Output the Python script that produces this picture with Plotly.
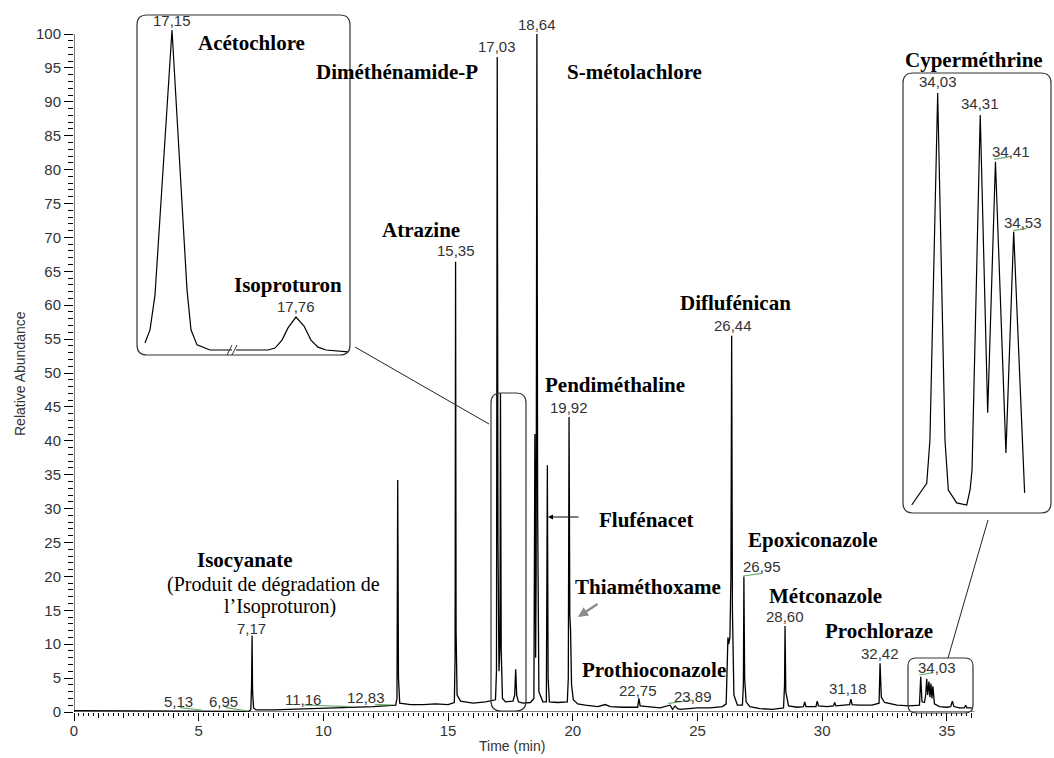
import plotly.graph_objects as go

# ---------------- data ----------------
time_min = [0.00, 1.00, 2.00, 3.00, 4.00, 5.00, 6.00, 7.00, 7.09, 7.12, 7.14, 7.16, 7.20, 7.30,
            8.00, 9.00, 10.00, 11.00, 12.00, 12.90, 12.95, 12.98, 13.01, 13.06, 13.50, 14.00,
            14.50, 15.00, 15.25, 15.28, 15.30, 15.32, 15.36, 15.50, 16.00, 16.50, 16.90, 16.94,
            16.97, 17.00, 17.04, 17.08, 17.10, 17.13, 17.18, 17.30, 17.60, 17.67, 17.71, 17.75,
            17.82, 18.00, 18.30, 18.44, 18.48, 18.51, 18.53, 18.56, 18.59, 18.64, 18.80, 18.94,
            18.98, 19.01, 19.06, 19.40, 19.78, 19.82, 19.85, 19.88, 19.91, 19.95, 20.02, 20.20,
            20.50, 21.00, 21.30, 21.50, 22.00, 22.60, 22.65, 22.70, 23.00, 23.50, 23.90, 24.00,
            24.10, 24.20, 24.30, 25.00, 25.50, 26.00, 26.15, 26.20, 26.22, 26.25, 26.30, 26.34,
            26.37, 26.40, 26.46, 26.60, 26.80, 26.84, 26.86, 26.89, 26.95, 27.10, 27.50, 28.00,
            28.45, 28.49, 28.51, 28.54, 28.65, 29.00, 29.25, 29.30, 29.35, 29.75, 29.80, 29.85,
            30.20, 30.45, 30.50, 30.55, 31.00, 31.10, 31.15, 31.20, 31.50, 32.00, 32.28, 32.32,
            32.37, 32.50, 33.00, 33.50, 33.90, 33.95, 34.00, 34.10, 34.15, 34.19, 34.23, 34.28,
            34.32, 34.36, 34.40, 34.44, 34.50, 34.70, 35.00, 35.15, 35.22, 35.28, 35.50, 35.70,
            35.75, 35.80, 36.00]
abundance = [0.2, 0.2, 0.2, 0.2, 0.1, 0.1, 0.2, 0.1, 0.3, 4.0, 11.3, 3.0, 0.6, 0.3,
             0.3, 0.4, 0.5, 0.7, 0.8, 1.0, 2.0, 34.2, 5.0, 1.3, 1.1, 1.1,
             1.2, 1.1, 1.4, 8.0, 66.4, 12.0, 2.5, 1.6, 1.3, 1.5, 1.8, 6.0,
             96.6, 25.0, 6.0, 10.0, 47.0, 9.0, 2.0, 1.5, 1.6, 2.5, 6.3, 2.5,
             1.5, 1.3, 1.4, 2.0, 41.0, 8.0, 20.0, 100.0, 30.0, 3.0, 1.5, 1.5,
             36.4, 5.0, 1.5, 1.4, 1.5, 5.0, 43.5, 14.3, 12.0, 4.0, 1.8, 1.2,
             1.0, 0.8, 1.1, 0.8, 0.7, 0.7, 2.0, 0.9, 0.8, 0.6, 1.0, 0.4,
             0.9, 0.5, 0.4, 0.6, 0.6, 0.8, 1.2, 8.0, 11.0, 10.0, 11.0, 20.0,
             55.5, 15.0, 2.5, 1.0, 1.0, 4.0, 20.0, 5.0, 1.5, 0.8, 0.5, 0.4,
             0.6, 4.0, 12.7, 3.0, 0.9, 0.7, 0.8, 1.5, 0.8, 0.8, 1.6, 0.9,
             0.8, 0.9, 1.4, 0.9, 1.0, 1.1, 1.9, 1.1, 1.0, 1.0, 1.3, 7.2,
             2.2, 1.4, 1.0, 0.9, 1.0, 5.2, 1.5, 1.4, 2.5, 4.9, 2.5, 4.5,
             2.2, 4.2, 2.0, 3.8, 1.2, 0.8, 0.7, 0.8, 1.6, 0.8, 0.6, 0.6,
             1.0, 0.6, 0.6]

# Inset 1 : Acétochlore (left of the break) and Isoproturon (right of the break)
acet_time = [17.096, 17.106, 17.116, 17.150, 17.180, 17.188, 17.200, 17.226, 17.270]
acet_abund = [2.2, 6.3, 17.2, 100.0, 18.8, 6.3, 1.6, 0.0, 0.0]
isop_time = [17.640, 17.704, 17.718, 17.732, 17.744, 17.760, 17.776, 17.790, 17.804, 17.820, 17.864]
isop_abund = [0.0, 0.0, 0.6, 3.1, 6.9, 10.3, 7.5, 3.1, 0.9, 0.0, -0.6]

# Inset 2 : Cyperméthrine isomers
cyp_time = [33.859, 33.958, 33.979, 34.030, 34.078, 34.100, 34.155, 34.221, 34.243, 34.256,
            34.310, 34.359, 34.410, 34.479, 34.530, 34.602]
cyp_abund = [1.2, 6.4, 16.8, 100.0, 16.8, 4.8, 1.7, 1.2, 4.8, 9.6,
             94.7, 23.3, 83.5, 13.7, 66.7, 4.1]

y_tick_vals = list(range(0, 101, 5))
x_tick_vals = list(range(0, 37))
x_tick_text = [str(v) if v % 5 == 0 else "" for v in x_tick_vals]

# peak labels (text, pixel x, pixel y)
rt_labels = [("5,13", 178.5, 701), ("6,95", 223, 701), ("7,17", 251.7, 628.5), ("11,16", 302.5, 699.3),
             ("12,83", 366, 697.3), ("15,35", 455.7, 250), ("17,03", 497.3, 46.7), ("18,64", 537.3, 24),
             ("19,92", 569, 407.3), ("22,75", 638.3, 690), ("23,89", 693.3, 696), ("26,44", 733, 325),
             ("26,95", 761.7, 566.7), ("28,60", 785, 616), ("31,18", 848.3, 688.3), ("32,42", 880, 653),
             ("34,03", 936.7, 667.7),
             ("17,15", 171.7, 20.7), ("17,76", 296, 306),
             ("34,03", 937.7, 81.7), ("34,31", 980, 103.3), ("34,41", 1010.7, 151.7), ("34,53", 1023, 222.7)]

compound_names = [("Acétochlore", 251.7, 42.7), ("Diméthénamide-P", 397, 72), ("S-métolachlore", 634, 72),
                  ("Atrazine", 421, 230), ("Isoproturon", 288, 285), ("Pendiméthaline", 615, 385),
                  ("Flufénacet", 646, 520), ("Thiaméthoxame", 648, 587), ("Prothioconazole", 654, 670),
                  ("Diflufénican", 735, 303), ("Epoxiconazole", 813, 540), ("Métconazole", 825, 596),
                  ("Prochloraze", 879, 631), ("Cyperméthrine", 974, 60), ("Isocyanate", 244.7, 560)]
plain_texts = [("(Produit de dégradation de", 273, 584), ("l’Isoproturon)", 280, 606)]

# green integration marks (pixel coordinates)
green_marks = [(180, 707.7, 201.7, 710), (225.7, 707.7, 248.3, 711), (303.3, 705, 350, 706.7),
               (375, 704.3, 391.7, 705), (668.3, 703.3, 693.3, 700), (919.3, 675, 933.3, 672.7),
               (743.3, 576, 761.7, 573.3), (994, 159.3, 1010, 156.7), (1013.3, 230.7, 1026.7, 228.3)]

# ---------------- layout geometry ----------------
W, H = 1054, 758
L, R, T, B = 74, 4, 10, 46
PW, PH = W - L - R, H - T - B
XPX_PER_MIN = 24.94
YPX_PER_UNIT = 6.78
X_MAX = PW / XPX_PER_MIN
Y_MAX = PH / YPX_PER_UNIT


def fx(px):
    return (px - L) / PW


def fy(py):
    return (T + PH - py) / PH


def rounded_box(x0, y0, x1, y1, r):
    # pixel coords (y0 top, y1 bottom) -> paper path
    a, b = fx(x0), fx(x1)
    top, bot = fy(y0), fy(y1)
    rx, ry = r / PW, r / PH
    return (f"M {a+rx},{top} L {b-rx},{top} Q {b},{top} {b},{top-ry} "
            f"L {b},{bot+ry} Q {b},{bot} {b-rx},{bot} L {a+rx},{bot} "
            f"Q {a},{bot} {a},{bot+ry} L {a},{top-ry} Q {a},{top} {a+rx},{top} Z")


fig = go.Figure()
fig.add_trace(go.Scatter(x=time_min, y=abundance, mode="lines", line=dict(color="black", width=1.3),
                         xaxis="x", yaxis="y", showlegend=False, hoverinfo="skip"))
fig.add_trace(go.Scatter(x=acet_time, y=acet_abund, mode="lines", line=dict(color="black", width=1.2),
                         xaxis="x2", yaxis="y2", showlegend=False, hoverinfo="skip"))
fig.add_trace(go.Scatter(x=isop_time, y=isop_abund, mode="lines", line=dict(color="black", width=1.2),
                         xaxis="x3", yaxis="y2", showlegend=False, hoverinfo="skip"))
fig.add_trace(go.Scatter(x=cyp_time, y=cyp_abund, mode="lines", line=dict(color="black", width=1.2),
                         xaxis="x4", yaxis="y4", showlegend=False, hoverinfo="skip"))
fig.add_trace(go.Scatter(x=[None], y=[None], xaxis="x5", yaxis="y", showlegend=False, hoverinfo="skip"))

tick_font = dict(family="Liberation Sans, Arial, sans-serif", size=15, color="#333")

in1_dom_y = [fy(350 + 3 * 3.2), fy(30 - 3 * 3.2)]
in2_dom_y = [fy(510 + 3 * 4.17), fy(93 - 3 * 4.17)]

fig.update_layout(
    width=W, height=H, autosize=False,
    margin=dict(l=L, r=R, t=T, b=B),
    paper_bgcolor="white", plot_bgcolor="white",
    xaxis=dict(range=[0, X_MAX], showgrid=False, zeroline=False, showline=False,
               tickmode="array", tickvals=x_tick_vals, ticktext=x_tick_text,
               ticks="outside", ticklen=5, tickwidth=1, tickcolor="black", tickfont=tick_font,
               minor=dict(tickmode="array",
                          tickvals=[round(i * 0.2, 1) for i in range(0, 181) if i % 5 != 0],
                          ticks="outside", ticklen=3, tickwidth=1, tickcolor="black", showgrid=False)),
    xaxis5=dict(range=[0, X_MAX], overlaying="x", anchor="y", showgrid=False, zeroline=False,
                showline=False, tickmode="array", tickvals=list(range(0, 36, 5)), ticks="outside",
                ticklen=8, tickwidth=1, tickcolor="black", showticklabels=False),
    yaxis=dict(range=[0, Y_MAX], showgrid=False, zeroline=False, showline=False,
               tickmode="array", tickvals=y_tick_vals, ticks="outside", ticklen=9, tickwidth=1,
               tickcolor="black", tickfont=tick_font,
               minor=dict(tickmode="array", tickvals=[v for v in range(1, 100) if v % 5 != 0],
                          ticks="outside", ticklen=5, tickwidth=1, tickcolor="black", showgrid=False)),
    xaxis2=dict(domain=[fx(140), fx(234)], range=[17.086, 17.274], anchor="y2", visible=False),
    xaxis3=dict(domain=[fx(234), fx(352)], range=[17.636, 17.872], anchor="y2", visible=False),
    yaxis2=dict(domain=in1_dom_y, range=[-3, 103], anchor="x2", visible=False),
    xaxis4=dict(domain=[fx(905), fx(1045)], range=[33.815, 34.736], anchor="y4", visible=False),
    yaxis4=dict(domain=in2_dom_y, range=[-3, 103], anchor="x4", visible=False),
)

shapes = []
# axis lines
shapes.append(dict(type="line", xref="x", yref="y", x0=0, x1=36.1, y0=0, y1=0,
                   line=dict(color="black", width=1)))
shapes.append(dict(type="line", xref="x", yref="y", x0=0, x1=0, y0=0, y1=100,
                   line=dict(color="black", width=1)))
# boxes
box_line = dict(color="#333", width=1.2)
for (x0, y0, x1, y1, r) in [(137, 15, 350, 355, 10), (903, 73, 1051, 513, 10),
                            (491, 393, 526, 711, 10), (908, 658, 973, 713, 8)]:
    shapes.append(dict(type="path", xref="paper", yref="paper", path=rounded_box(x0, y0, x1, y1, r),
                       line=box_line))
# connector lines
for (x0, y0, x1, y1) in [(355, 347, 489, 424), (988, 520, 948, 658)]:
    shapes.append(dict(type="line", xref="paper", yref="paper", x0=fx(x0), y0=fy(y0), x1=fx(x1), y1=fy(y1),
                       line=dict(color="#222", width=1)))
# break marks
for (x0, y0, x1, y1) in [(227, 355, 232, 345), (232, 355, 237, 345)]:
    shapes.append(dict(type="line", xref="paper", yref="paper", x0=fx(x0), y0=fy(y0), x1=fx(x1), y1=fy(y1),
                       line=dict(color="#333", width=1)))
# green integration marks
for (x0, y0, x1, y1) in green_marks:
    shapes.append(dict(type="line", xref="paper", yref="paper", x0=fx(x0), y0=fy(y0), x1=fx(x1), y1=fy(y1),
                       line=dict(color="#6aac6a", width=1.2)))
fig.update_layout(shapes=shapes)

ann = []
num_font = dict(family="Liberation Sans, Arial, sans-serif", size=15, color="#333")
for (t, x, y) in rt_labels:
    ann.append(dict(text=t, x=fx(x), y=fy(y), xref="paper", yref="paper", showarrow=False,
                    font=num_font, xanchor="center", yanchor="middle"))
name_font = dict(family="Liberation Serif, Times New Roman, serif", size=21, color="black")
plain_font = dict(family="Liberation Serif, Times New Roman, serif", size=20, color="black")
for (t, x, y) in compound_names:
    ann.append(dict(text="<b>" + t + "</b>", x=fx(x), y=fy(y), xref="paper", yref="paper", showarrow=False,
                    font=name_font, xanchor="center", yanchor="middle"))
for (t, x, y) in plain_texts:
    ann.append(dict(text=t, x=fx(x), y=fy(y), xref="paper", yref="paper", showarrow=False,
                    font=plain_font, xanchor="center", yanchor="middle"))
# axis titles
ann.append(dict(text="Relative Abundance", x=fx(20), y=fy(374), xref="paper", yref="paper", showarrow=False,
                textangle=-90, font=dict(family="Liberation Sans, Arial, sans-serif", size=14, color="#333"),
                xanchor="center", yanchor="middle"))
ann.append(dict(text="Time (min)", x=fx(512), y=fy(746), xref="paper", yref="paper", showarrow=False,
                font=dict(family="Liberation Sans, Arial, sans-serif", size=14, color="#333"),
                xanchor="center", yanchor="middle"))
# arrows
ann.append(dict(text="", x=fx(548), y=fy(517), xref="paper", yref="paper", showarrow=True,
                ax=32, ay=0, arrowhead=2, arrowsize=1, arrowwidth=1, arrowcolor="black"))
ann.append(dict(text="", x=fx(578), y=fy(617), xref="paper", yref="paper", showarrow=True,
                ax=21, ay=-14, arrowhead=2, arrowsize=0.8, arrowwidth=2.5, arrowcolor="#8c8c8c"))
fig.update_layout(annotations=ann)

fig.write_html("out.html", include_plotlyjs=True, config={"displayModeBar": False},
               post_script="document.body.style.margin='0';document.body.style.overflow='hidden';")
